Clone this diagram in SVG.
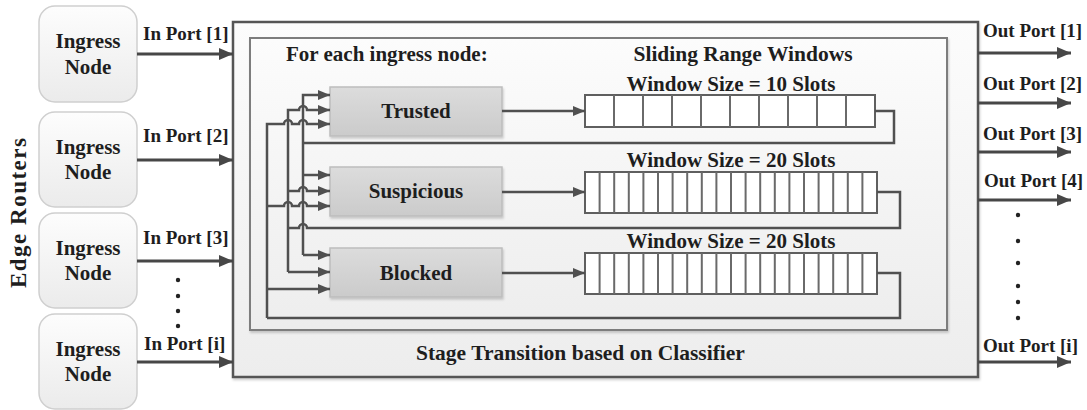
<svg xmlns="http://www.w3.org/2000/svg" width="1087" height="410" viewBox="0 0 1087 410">
  <defs>
    <linearGradient id="nodeFill" x1="0" y1="0" x2="0" y2="1">
      <stop offset="0" stop-color="#fdfdfd"/>
      <stop offset="1" stop-color="#ebebeb"/>
    </linearGradient>
    <linearGradient id="panelFill" x1="0" y1="0" x2="0" y2="1">
      <stop offset="0" stop-color="#fcfcfc"/>
      <stop offset="1" stop-color="#ededed"/>
    </linearGradient>
    <linearGradient id="stateFill" x1="0" y1="0" x2="0" y2="1">
      <stop offset="0" stop-color="#dcdcdc"/>
      <stop offset="1" stop-color="#cbcbcb"/>
    </linearGradient>
    <filter id="shadow" x="-5%" y="-5%" width="110%" height="115%">
      <feDropShadow dx="1" dy="2" stdDeviation="1.2" flood-color="#000" flood-opacity="0.18"/>
    </filter>
    <marker id="arrowBig" markerUnits="userSpaceOnUse" markerWidth="14" markerHeight="12" refX="14" refY="6" orient="auto">
      <path d="M0,0 L14,6 L0,12 Z" fill="#474747"/>
    </marker>
    <marker id="arrowSmall" markerUnits="userSpaceOnUse" markerWidth="12" markerHeight="10" refX="12" refY="5" orient="auto">
      <path d="M0,0 L12,5 L0,10 Z" fill="#505050"/>
    </marker>
  </defs>
  <style>
    text { font-family: "Liberation Serif", "Times New Roman", serif; font-weight: bold; fill: #1e1e1e; }
    .node { fill: url(#nodeFill); stroke: #cfcfcf; stroke-width: 1.5; }
    .nodeText { font-size: 21px; text-anchor: middle; }
    .port { font-size: 19px; }
    .label { font-size: 21px; }
    .mid { text-anchor: middle; }
    .port-line { fill: none; stroke: #474747; stroke-width: 3; marker-end: url(#arrowBig); }
    .wire { fill: none; stroke: #505050; stroke-width: 2.5; }
    .wire-arrow { fill: none; stroke: #505050; stroke-width: 2.5; marker-end: url(#arrowSmall); }
    .state { fill: url(#stateFill); stroke: #bdbdbd; stroke-width: 1.5; }
    .window { fill: #ffffff; stroke: #5f5f5f; stroke-width: 2; }
    .slot { stroke: #6a6a6a; stroke-width: 2; }
    .dot { fill: #222; }
  </style>

  <rect width="1087" height="410" fill="#ffffff"/>

  <!-- Stage-transition block -->
  <g id="stage-block">
    <rect x="233" y="22" width="745" height="355" fill="url(#panelFill)" stroke="#555" stroke-width="2.5" filter="url(#shadow)"/>
    <rect x="250" y="38" width="697" height="292" fill="url(#panelFill)" stroke="#7d7d7d" stroke-width="2" filter="url(#shadow)"/>
    <text class="label" x="286" y="61">For each ingress node:</text>
    <text class="label mid" x="743" y="61" style="font-size:21.5px">Sliding Range Windows</text>
    <text class="label" x="416" y="360" style="font-size:21.5px">Stage Transition based on Classifier</text>
  </g>

  <!-- Edge router title -->
  <text transform="translate(26,213) rotate(-90)" text-anchor="middle" font-size="23" textLength="150" lengthAdjust="spacing">Edge Routers</text>

  <!-- Ingress nodes -->
  <g id="ingress-1">
    <rect class="node" x="39" y="6" width="98" height="96" rx="16"/>
    <text class="nodeText" x="88" y="48">Ingress</text>
    <text class="nodeText" x="88" y="74">Node</text>
  </g>
  <g id="ingress-2">
    <rect class="node" x="39" y="112" width="98" height="95" rx="16"/>
    <text class="nodeText" x="88" y="154">Ingress</text>
    <text class="nodeText" x="88" y="179">Node</text>
  </g>
  <g id="ingress-3">
    <rect class="node" x="39" y="213" width="98" height="95" rx="16"/>
    <text class="nodeText" x="88" y="255">Ingress</text>
    <text class="nodeText" x="88" y="280">Node</text>
  </g>
  <g id="ingress-i">
    <rect class="node" x="39" y="314" width="98" height="95" rx="16"/>
    <text class="nodeText" x="88" y="356">Ingress</text>
    <text class="nodeText" x="88" y="381">Node</text>
  </g>

  <!-- Stage nodes -->
  <g id="state-trusted">
    <rect class="state" x="330" y="87" width="172" height="49" filter="url(#shadow)"/>
    <text class="label mid" x="416" y="118">Trusted</text>
  </g>
  <g id="state-suspicious">
    <rect class="state" x="330" y="167" width="172" height="49" filter="url(#shadow)"/>
    <text class="label mid" x="416" y="198">Suspicious</text>
  </g>
  <g id="state-blocked">
    <rect class="state" x="330" y="248" width="172" height="49" filter="url(#shadow)"/>
    <text class="label mid" x="416" y="280">Blocked</text>
  </g>

  <!-- Sliding windows -->
  <g id="window-trusted">
    <text class="label mid" x="731" y="91">Window Size = 10 Slots</text>
    <rect class="window" x="585" y="95" width="290" height="32"/>
    <path class="slot" d="M614,95V127 M643,95V127 M672,95V127 M701,95V127 M730,95V127 M759,95V127 M788,95V127 M817,95V127 M846,95V127"/>
  </g>
  <g id="window-suspicious">
    <text class="label mid" x="731" y="167">Window Size = 20 Slots</text>
    <rect class="window" x="585" y="172" width="292" height="41"/>
    <path class="slot" d="M599.6,172V213 M614.2,172V213 M628.8,172V213 M643.4,172V213 M658,172V213 M672.6,172V213 M687.2,172V213 M701.8,172V213 M716.4,172V213 M731,172V213 M745.6,172V213 M760.2,172V213 M774.8,172V213 M789.4,172V213 M804,172V213 M818.6,172V213 M833.2,172V213 M847.8,172V213 M862.4,172V213"/>
  </g>
  <g id="window-blocked">
    <text class="label mid" x="731" y="248">Window Size = 20 Slots</text>
    <rect class="window" x="585" y="253" width="292" height="41"/>
    <path class="slot" d="M599.6,253V294 M614.2,253V294 M628.8,253V294 M643.4,253V294 M658,253V294 M672.6,253V294 M687.2,253V294 M701.8,253V294 M716.4,253V294 M731,253V294 M745.6,253V294 M760.2,253V294 M774.8,253V294 M789.4,253V294 M804,253V294 M818.6,253V294 M833.2,253V294 M847.8,253V294 M862.4,253V294"/>
  </g>

  <!-- Connectors -->
  <g id="connectors">
    <!-- input ports -->
    <path class="port-line" d="M137,54H233"/>
    <path class="port-line" d="M137,160H233"/>
    <path class="port-line" d="M137,261H233"/>
    <path class="port-line" d="M137,362H233"/>
    <!-- output ports -->
    <path class="port-line" d="M978,53H1071"/>
    <path class="port-line" d="M978,103H1071"/>
    <path class="port-line" d="M978,152H1071"/>
    <path class="port-line" d="M978,200H1071"/>
    <path class="port-line" d="M978,362H1071"/>

    <!-- stage to window -->
    <path class="wire-arrow" d="M502,111H585"/>
    <path class="wire-arrow" d="M502,192H585"/>
    <path class="wire-arrow" d="M502,273H585"/>

    <!-- window feedback loops -->
    <path class="wire" d="M875,111H894V143H303"/>
    <path class="wire" d="M288,228H299A4,4 0 0 1 307,228H900V192H877"/>
    <path class="wire" d="M267,318H900V273H877"/>

    <!-- trusted-window feedback bus -->
    <path class="wire-arrow" d="M303,255V95H330"/>
    <path class="wire-arrow" d="M303,175H330"/>
    <path class="wire-arrow" d="M303,255H330"/>

    <!-- suspicious-window feedback bus -->
    <path class="wire-arrow" d="M288,272V110H299A4,4 0 0 1 307,110H330"/>
    <path class="wire-arrow" d="M288,191H299A4,4 0 0 1 307,191H330"/>
    <path class="wire-arrow" d="M288,272H330"/>

    <!-- blocked-window feedback bus -->
    <path class="wire-arrow" d="M267,318V124H284A4,4 0 0 1 292,124H299A4,4 0 0 1 307,124H330"/>
    <path class="wire-arrow" d="M267,206H284A4,4 0 0 1 292,206H299A4,4 0 0 1 307,206H330"/>
    <path class="wire-arrow" d="M267,289H330"/>
  </g>

  <!-- Port labels -->
  <g id="in-ports">
    <text class="port" x="143" y="40">In Port [1]</text>
    <text class="port" x="143" y="142">In Port [2]</text>
    <text class="port" x="143" y="244">In Port [3]</text>
    <text class="port" x="144" y="350">In Port [i]</text>
    <circle class="dot" cx="178" cy="280" r="2.2"/>
    <circle class="dot" cx="178" cy="296" r="2.2"/>
    <circle class="dot" cx="178" cy="311" r="2.2"/>
    <circle class="dot" cx="178" cy="326" r="2.2"/>
  </g>
  <g id="out-ports">
    <text class="port" x="983" y="37">Out Port [1]</text>
    <text class="port" x="983" y="90">Out Port [2]</text>
    <text class="port" x="983" y="140">Out Port [3]</text>
    <text class="port" x="984" y="187">Out Port [4]</text>
    <text class="port" x="983" y="352">Out Port [i]</text>
    <circle class="dot" cx="1018" cy="215" r="2.2"/>
    <circle class="dot" cx="1018" cy="241" r="2.2"/>
    <circle class="dot" cx="1018" cy="263" r="2.2"/>
    <circle class="dot" cx="1018" cy="286" r="2.2"/>
    <circle class="dot" cx="1018" cy="302" r="2.2"/>
    <circle class="dot" cx="1018" cy="318" r="2.2"/>
  </g>
</svg>
